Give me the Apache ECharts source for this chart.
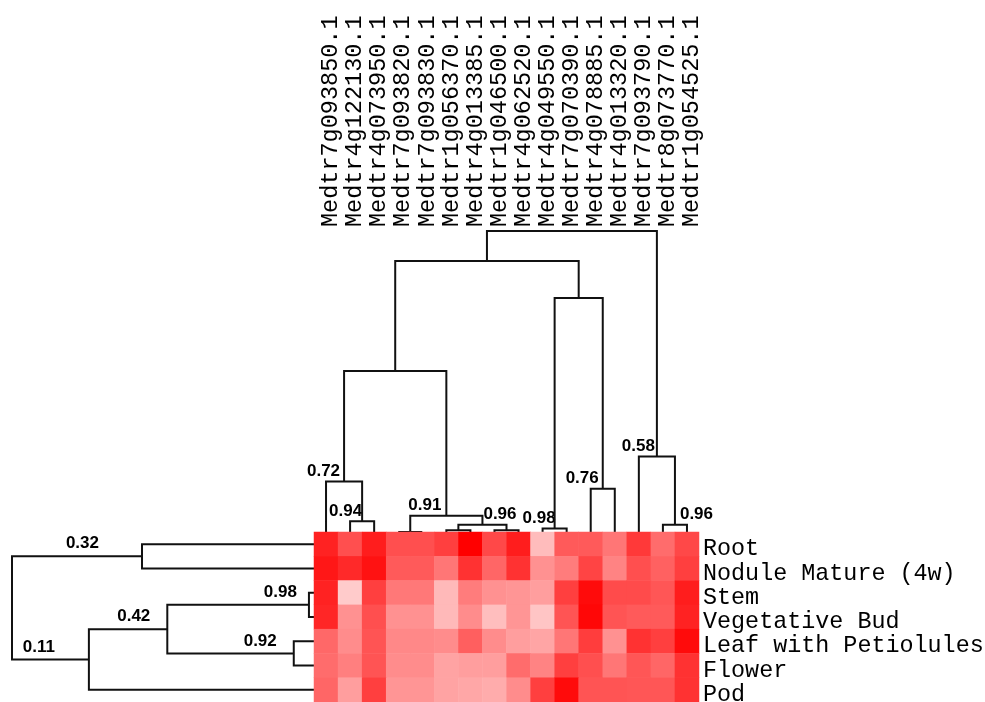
<!DOCTYPE html>
<html><head><meta charset="utf-8">
<script src="https://cdn.jsdelivr.net/npm/echarts@6/dist/echarts.min.js"></script>
<style>html,body{margin:0;padding:0;background:#fff}#c{width:985px;height:702px}</style>
</head><body><div id="c"></div>
<script>
// ---------- data ----------
const genes = ['Medtr7g093850.1','Medtr4g122130.1','Medtr4g073950.1','Medtr7g093820.1','Medtr7g093830.1','Medtr1g056370.1','Medtr4g013385.1','Medtr1g046500.1','Medtr4g062520.1','Medtr4g049550.1','Medtr7g070390.1','Medtr4g078885.1','Medtr4g013320.1','Medtr7g093790.1','Medtr8g073770.1','Medtr1g054525.1'];
const tissues = ['Root','Nodule Mature (4w)','Stem','Vegetative Bud','Leaf with Petiolules','Flower','Pod'];
// relative expression (0 = low/pale, 1 = high/red), rows = tissues, columns = genes
const exprRoot    = [0.85,0.65,0.87,0.65,0.65,0.72,1.00,0.68,0.87,0.17,0.60,0.60,0.48,0.75,0.52,0.68];
const exprNodule  = [0.90,0.82,0.92,0.60,0.60,0.48,0.78,0.55,0.78,0.36,0.45,0.70,0.42,0.65,0.57,0.72];
const exprStem    = [0.85,0.10,0.72,0.47,0.47,0.18,0.45,0.36,0.34,0.30,0.72,0.95,0.67,0.67,0.62,0.87];
const exprVegBud  = [0.83,0.36,0.65,0.36,0.36,0.18,0.38,0.16,0.34,0.13,0.63,0.97,0.63,0.60,0.60,0.85];
const exprLeaf    = [0.54,0.38,0.63,0.40,0.40,0.38,0.58,0.38,0.30,0.27,0.48,0.73,0.36,0.78,0.72,0.95];
const exprFlower  = [0.52,0.44,0.63,0.38,0.38,0.28,0.30,0.30,0.52,0.42,0.72,0.65,0.48,0.62,0.55,0.78];
const exprPod     = [0.55,0.30,0.72,0.34,0.34,0.28,0.26,0.24,0.38,0.72,0.95,0.63,0.63,0.62,0.62,0.78];
const exprRows = [exprRoot, exprNodule, exprStem, exprVegBud, exprLeaf, exprFlower, exprPod];

// column clustering: [childA, childB, similarity]; ids < 16 are genes, id 16+k is merge k
const colMerges = [[3,4,1.00],[5,6,0.99],[7,8,0.99],[9,10,0.98],[1,2,0.94],[14,15,0.96],[17,18,0.96],[16,22,0.91],[11,12,0.76],[0,20,0.72],[13,21,0.58],[25,23,0.106],[19,24,-0.30],[27,28,-0.506],[29,26,-0.672]];
const colLabels = ['','','','0.98','0.94','0.96','0.96','0.91','0.76','0.72','0.58','','','',''];
// row clustering: ids < 7 are tissues, id 7+k is merge k
const rowMerges = [[0,1,0.32],[2,3,0.98],[4,5,0.92],[8,9,0.42],[10,6,0.11],[7,11,-0.194]];
const rowLabels = ['0.32','0.98','0.92','0.42','0.11',''];

// ---------- label styling (pixel offsets) ----------
const colLabelDx = [0,0,0,1,0,5,1,-5,-4,-4,-2,0,0,0,0];
const colLabelAlign = ['right','right','right','right','right','left','left','right','right','right','right','right','right','right','right'];
const rowLabelDx = [-43,-12,-17,-17,-34,0];

// ---------- build ----------
function buildTree(nLeaves, merges) {
  const pos = [], h = [];
  for (let i = 0; i < nLeaves; i++) { pos.push(i + 0.5); h.push(1); }
  const segs = [];
  merges.forEach((m, k) => {
    const [a, b, s] = m;
    segs.push([pos[a], h[a], pos[b], h[b], s, k]);
    pos.push((pos[a] + pos[b]) / 2);
    h.push(s);
  });
  return segs;
}
const colSegs = buildTree(genes.length, colMerges);
const rowSegs = buildTree(tissues.length, rowMerges);

const heatData = [];
exprRows.forEach((row, r) => row.forEach((v, c) => heatData.push([c, r, v])));

const LINE = {stroke: '#111', lineWidth: 2, fill: null};
const NUMFONT = 'bold 17px "Liberation Sans", Arial, sans-serif';
const MONO = '"Liberation Mono", "Courier New", monospace';

const chart = echarts.init(document.getElementById('c'), null, {renderer: 'canvas'});
chart.setOption({
  animation: false,
  backgroundColor: '#fff',
  grid: [
    {left: 314, top: 532, width: 385, height: 170, outerBoundsMode: 'none', containLabel: false},
    {left: 314, top: 231, width: 385, height: 301, outerBoundsMode: 'none', containLabel: false},
    {left: 12, top: 532, width: 302, height: 170, outerBoundsMode: 'none', containLabel: false}
  ],
  xAxis: [
    {type: 'category', gridIndex: 0, data: genes, position: 'top', offset: 301,
     axisLine: {show: false}, axisTick: {show: false}, splitLine: {show: false},
     axisLabel: {rotate: -90, interval: 0, margin: 4, color: '#000',
       formatter: function (v) { return '{g|' + v + '}'; },
       rich: {g: {fontFamily: MONO, fontSize: 23.5, color: '#000', padding: [10, 0, 0, 0]}}}},
    {type: 'value', gridIndex: 1, min: 0, max: 16, show: false},
    {type: 'value', gridIndex: 2, min: -0.194, max: 1, show: false}
  ],
  yAxis: [
    {type: 'category', gridIndex: 0, data: tissues, inverse: true, position: 'right',
     axisLine: {show: false}, axisTick: {show: false}, splitLine: {show: false},
     axisLabel: {interval: 0, margin: 4, color: '#000',
       formatter: function (v) { return '{t|' + v + '}'; },
       rich: {t: {fontFamily: MONO, fontSize: 23.4, color: '#000', padding: [10, 0, 0, 0]}}}},
    {type: 'value', gridIndex: 1, min: -0.672, max: 1, inverse: true, show: false},
    {type: 'value', gridIndex: 2, min: 0, max: 7, inverse: true, show: false}
  ],
  visualMap: {show: false, type: 'continuous', min: 0, max: 1, seriesIndex: 0, dimension: 2,
    inRange: {color: ['#ffe2e2', '#ff0000']}},
  series: [
    {type: 'heatmap', xAxisIndex: 0, yAxisIndex: 0, data: heatData, itemStyle: {borderWidth: 0}, z: 3},
    {type: 'custom', coordinateSystem: 'cartesian2d', xAxisIndex: 1, yAxisIndex: 1, clip: false, z: 2,
     data: colSegs,
     renderItem: function (params, api) {
       const xa = api.value(0), ha = api.value(1), xb = api.value(2), hb = api.value(3), s = api.value(4), k = api.value(5);
       const p1 = api.coord([xa, ha]), p2 = api.coord([xa, s]), p3 = api.coord([xb, s]), p4 = api.coord([xb, hb]);
       const children = [{type: 'polyline', shape: {points: [p1, p2, p3, p4]}, style: LINE}];
       const lab = colLabels[k];
       if (lab) {
         const sx = (p2[0] + p3[0]) / 2;
         children.push({type: 'text', style: {text: lab, x: sx + colLabelDx[k], y: p2[1] - 10,
           align: colLabelAlign[k], verticalAlign: 'middle', font: NUMFONT, fill: '#000'}});
       }
       return {type: 'group', children: children};
     }},
    {type: 'custom', coordinateSystem: 'cartesian2d', xAxisIndex: 2, yAxisIndex: 2, clip: false, z: 2,
     data: rowSegs,
     renderItem: function (params, api) {
       const ya = api.value(0), ha = api.value(1), yb = api.value(2), hb = api.value(3), s = api.value(4), k = api.value(5);
       const p1 = api.coord([ha, ya]), p2 = api.coord([s, ya]), p3 = api.coord([s, yb]), p4 = api.coord([hb, yb]);
       const children = [{type: 'polyline', shape: {points: [p1, p2, p3, p4]}, style: LINE}];
       const lab = rowLabels[k];
       if (lab) {
         const sy = (p2[1] + p3[1]) / 2;
         children.push({type: 'text', style: {text: lab, x: p2[0] + rowLabelDx[k], y: sy - 12.5,
           align: 'right', verticalAlign: 'middle', font: NUMFONT, fill: '#000'}});
       }
       return {type: 'group', children: children};
     }}
  ]
});
</script>
</body></html>
